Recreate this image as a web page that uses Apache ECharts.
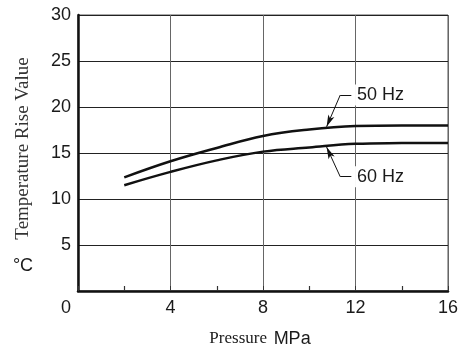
<!DOCTYPE html>
<html>
<head>
<meta charset="utf-8">
<script src="https://cdn.jsdelivr.net/npm/echarts@6/dist/echarts.min.js"></script>
<style>html,body{margin:0;padding:0;background:#fff;}#c{width:468px;height:351px;}</style>
</head>
<body>
<div id="c"></div>
<script>
const pressure = [2, 4, 6, 8, 10, 12, 14, 16];
const rise50 = [12.35, 14.1, 15.55, 16.85, 17.55, 17.93, 18.0, 18.0];
const rise60 = [11.5, 12.95, 14.2, 15.15, 15.6, 16.0, 16.08, 16.1];
const xTicks = [0, 4, 8, 12, 16];
const yTicks = [0, 5, 10, 15, 20, 25, 30];
// annotation leader geometry in data units: tip, corner, end, label anchor
const ann50 = { text: '50 Hz', tip: [10.75, 17.85], corner: [11.34, 21.3], end: [11.82, 21.3], label: [11.98, 21.3] };
const ann60 = { text: '60 Hz', tip: [10.75, 15.65], corner: [11.34, 12.42], end: [11.82, 12.42], label: [11.98, 12.42] };

const SANS = '"Liberation Sans", Arial, sans-serif';
const SERIF = '"Liberation Serif", "Times New Roman", serif';

function zip(xs, ys) { return xs.map((x, i) => [x, ys[i]]); }
function leader(a) {
  return [
    [{ coord: a.corner, symbol: 'none' }, { coord: a.tip, symbol: 'arrow', symbolSize: [5, 12] }],
    [{ coord: a.corner, symbol: 'none' }, { coord: a.end, symbol: 'none' }]
  ];
}
function labelPt(a) {
  return {
    coord: a.label, symbol: 'circle', symbolSize: 0,
    label: { show: true, formatter: a.text, position: 'right', distance: 0,
      fontFamily: SANS, fontSize: 18, color: '#1a1a1a', backgroundColor: '#fff', padding: [2, 2, 1, 2] }
  };
}

const chart = echarts.init(document.getElementById('c'), null, { renderer: 'canvas' });
chart.setOption({
  animation: false,
  backgroundColor: '#fff',
  grid: { left: 78, right: 20, top: 15, bottom: 60, show: true, borderColor: '#555', borderWidth: 1, backgroundColor: 'transparent' },
  xAxis: {
    type: 'value', min: xTicks[0], max: xTicks[xTicks.length - 1], interval: 4,
    axisLine: { show: true, lineStyle: { color: '#111', width: 2.5 } },
    axisTick: { show: true, inside: true, length: 5, lineStyle: { color: '#333', width: 1 } },
    minorTick: { show: true, splitNumber: 2, length: 5, lineStyle: { color: '#333', width: 1.2 } },
    axisLabel: {
      margin: 8, fontFamily: SANS, fontSize: 18, color: '#1a1a1a',
      formatter: v => v === 0 ? '{z|0}' : String(v),
      rich: { z: { fontFamily: SANS, fontSize: 18, color: '#1a1a1a', padding: [0, 24, 0, 0] } }
    },
    splitLine: { show: true, lineStyle: { color: '#666', width: 1 } }
  },
  yAxis: {
    type: 'value', min: yTicks[0], max: yTicks[yTicks.length - 1], interval: 5,
    axisLine: { show: true, lineStyle: { color: '#111', width: 2.5 } },
    axisTick: { show: false },
    axisLabel: { margin: 7, fontFamily: SANS, fontSize: 18, color: '#1a1a1a', formatter: v => v === 0 ? '' : String(v) },
    splitLine: { show: true, lineStyle: { color: '#222', width: 1 } }
  },
  series: [
    {
      name: '50 Hz', type: 'line', data: zip(pressure, rise50), smooth: 0.4, showSymbol: false, silent: true,
      lineStyle: { color: '#111', width: 2.5 }, z: 3,
      markLine: { silent: true, symbol: ['none', 'none'], label: { show: false }, lineStyle: { color: '#111', width: 1, type: 'solid' }, data: leader(ann50) },
      markPoint: { silent: true, data: [labelPt(ann50)] }
    },
    {
      name: '60 Hz', type: 'line', data: zip(pressure, rise60), smooth: 0.4, showSymbol: false, silent: true,
      lineStyle: { color: '#111', width: 2.5 }, z: 3,
      markLine: { silent: true, symbol: ['none', 'none'], label: { show: false }, lineStyle: { color: '#111', width: 1, type: 'solid' }, data: leader(ann60) },
      markPoint: { silent: true, data: [labelPt(ann60)] }
    }
  ],
  graphic: [
    { type: 'text', x: 23, y: 148.5, rotation: Math.PI / 2,
      style: { text: 'Temperature Rise Value', font: '19px ' + SERIF, fill: '#333', align: 'center', verticalAlign: 'middle' } },
    { type: 'text', x: 23, y: 266,
      style: { text: '°C', font: '18px ' + SANS, fill: '#1a1a1a', align: 'center', verticalAlign: 'middle' } },
    { type: 'text', x: 260, y: 339,
      style: { text: '{a|Pressure}  {b|MPa}', align: 'center', verticalAlign: 'middle',
        rich: { a: { fontFamily: SERIF, fontSize: 17, fill: '#1a1a1a' }, b: { fontFamily: SANS, fontSize: 18, fill: '#1a1a1a' } } } }
  ]
});
</script>
</body>
</html>
